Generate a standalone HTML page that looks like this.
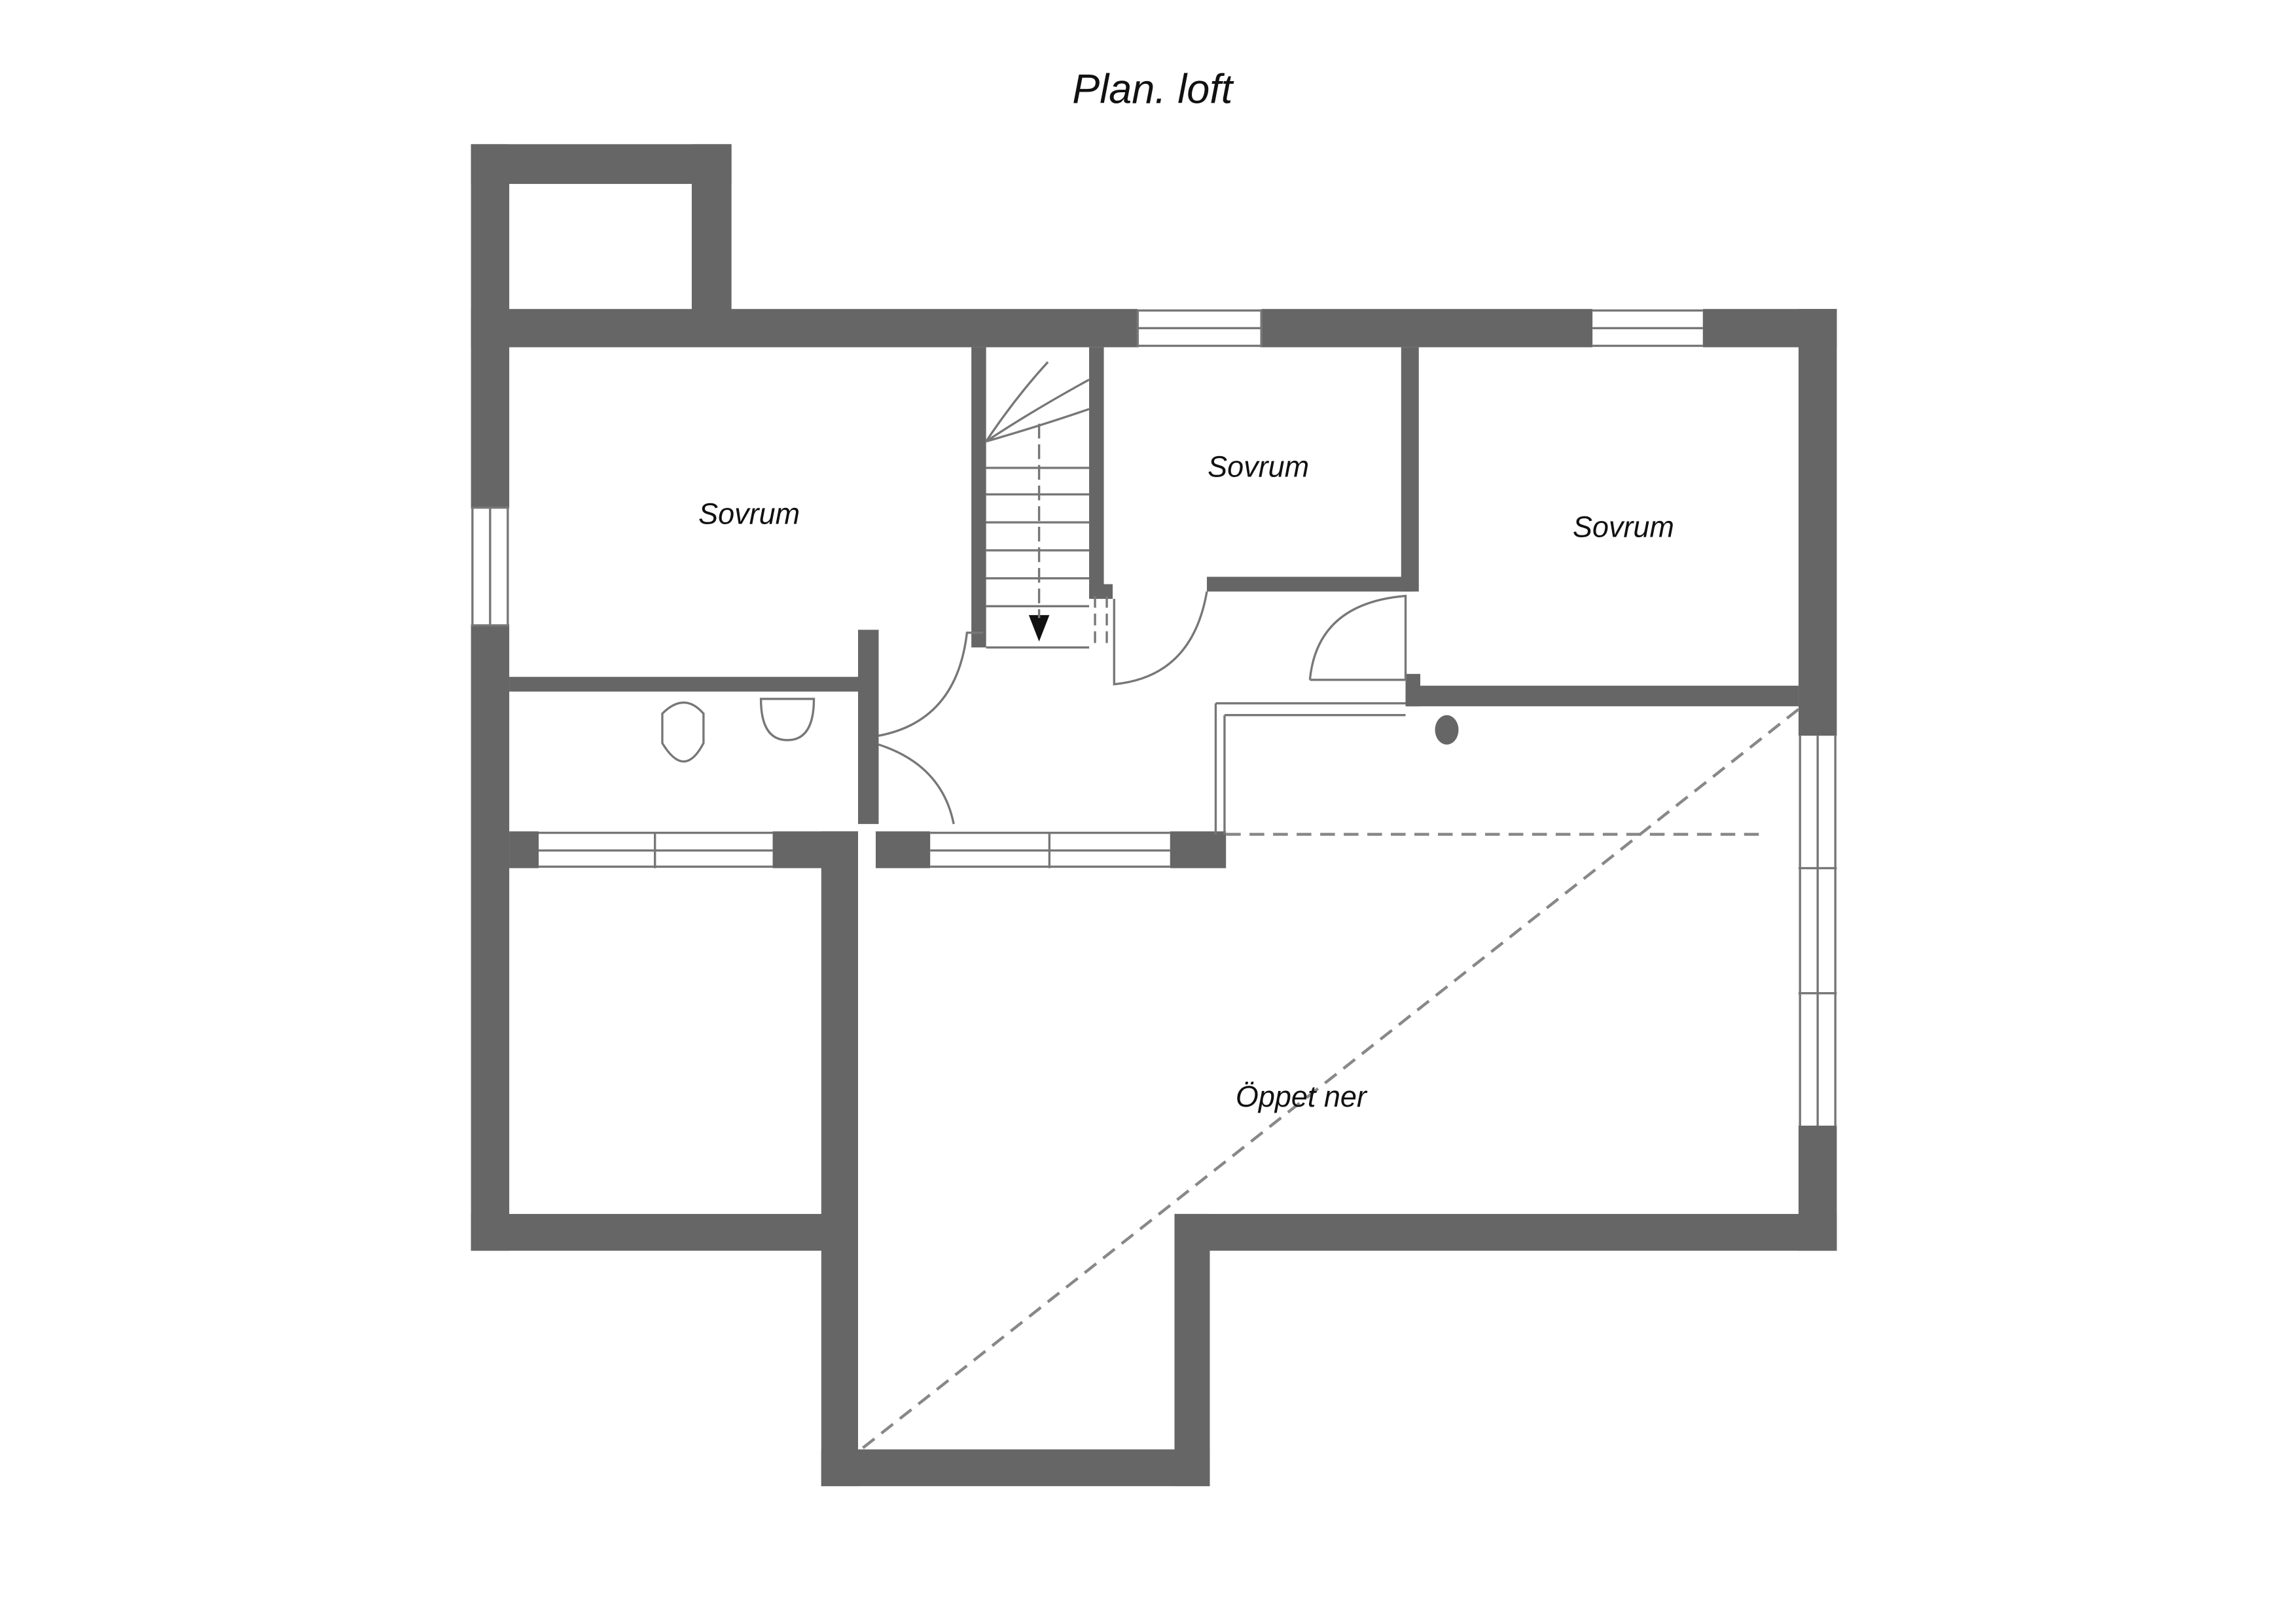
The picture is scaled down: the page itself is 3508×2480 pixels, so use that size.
<!DOCTYPE html>
<html><head><meta charset="utf-8"><style>
html,body{margin:0;padding:0;background:#fff;}
svg{display:block;}
text{font-family:"Liberation Sans",sans-serif;fill:#111;}
</style></head><body>
<svg width="3508" height="2480" viewBox="0 0 1560 1103" preserveAspectRatio="none" xmlns="http://www.w3.org/2000/svg">
<rect width="1560" height="1103" fill="#fff"/>
<g fill="#666">
<rect x="320" y="98" width="177" height="27"/>
<rect x="320" y="98" width="26" height="247"/>
<rect x="470" y="98" width="27" height="137"/>
<rect x="320" y="210" width="453" height="26"/>
<rect x="857" y="210" width="225" height="26"/>
<rect x="1157" y="210" width="91" height="26"/>
<rect x="1222" y="210" width="26" height="290"/>
<rect x="1222" y="765" width="26" height="85"/>
<rect x="320" y="425" width="26" height="425"/>
<rect x="320" y="825" width="263" height="25"/>
<rect x="558" y="565" width="25" height="445"/>
<rect x="558" y="985" width="264" height="25"/>
<rect x="798" y="825" width="24" height="185"/>
<rect x="798" y="825" width="450" height="25"/>
<rect x="346" y="565" width="20" height="25"/>
<rect x="525" y="565" width="58" height="25"/>
<rect x="595" y="565" width="37" height="25"/>
<rect x="795" y="565" width="38" height="25"/>
<rect x="660" y="236" width="10" height="204"/>
<rect x="740" y="236" width="10" height="170"/>
<rect x="740" y="397" width="16" height="10"/>
<rect x="346" y="460" width="244" height="10"/>
<rect x="583" y="428" width="14" height="132"/>
<rect x="820" y="392" width="140" height="10"/>
<rect x="952" y="236" width="12" height="166"/>
<rect x="955" y="466" width="267" height="14"/>
<rect x="955" y="458" width="10" height="22"/>
<ellipse cx="983" cy="496" rx="8" ry="10"/>
</g>
<path d="M699 418H713L706 436Z" fill="#111"/>
<g stroke="#777" stroke-width="1.5" fill="none">
<path d="M773 211H857M773 223H857M773 235H857M773 211V236M857 211V236"/>
<path d="M1082 211H1157M1082 223H1157M1082 235H1157"/>
<path d="M321 345V425M333 345V425M345 345V425M320 345H346M320 425H346"/>
<path d="M1223 500V765M1235 500V765M1247 500V765M1222 590H1248M1222 675H1248"/>
<path d="M366 566H525M366 578H525M366 589H525M445 566V590"/>
<path d="M632 566H795M632 578H795M632 589H795M713 566V590"/>
<path d="M826 478H955M832 486H955M826 478V567M832 486V567"/>
<path d="M670 318H740M670 336H740M670 355H740M670 374H740M670 393H740M670 412H740M670 440H740"/>
<path d="M670 300Q690 270 712 246M670 300Q700 280 740 258M670 300Q705 290 740 278"/>
<path d="M706 288V420" stroke-dasharray="10 4"/>
<path d="M744 405V440M752 405V440" stroke-dasharray="8 4"/>
<path d="M597 500Q650 490 657 430H668"/>
<path d="M597 506Q640 520 648 560"/>
<path d="M757 407V465Q810 460 820 402"/>
<path d="M890 462H955V405Q895 410 890 462"/>
<path d="M450 485Q465 470 478 485L478 505Q465 530 450 505Z"/>
<path d="M517 475H553Q553 503 535 503Q517 503 517 475Z"/>
</g>
<g stroke="#888" stroke-width="2" fill="none" stroke-dasharray="10 6">
<path d="M1222 482L585 985"/>
<path d="M833 567H1198"/>
</g>
<text x="783" y="70" font-size="28" text-anchor="middle" font-style="italic">Plan. loft</text>
<text x="509" y="356" font-size="20" text-anchor="middle" font-style="italic">Sovrum</text>
<text x="855" y="324" font-size="20" text-anchor="middle" font-style="italic">Sovrum</text>
<text x="1103" y="365" font-size="20" text-anchor="middle" font-style="italic">Sovrum</text>
<text x="884" y="752" font-size="20" text-anchor="middle" font-style="italic">Öppet ner</text>
</svg>
</body></html>
